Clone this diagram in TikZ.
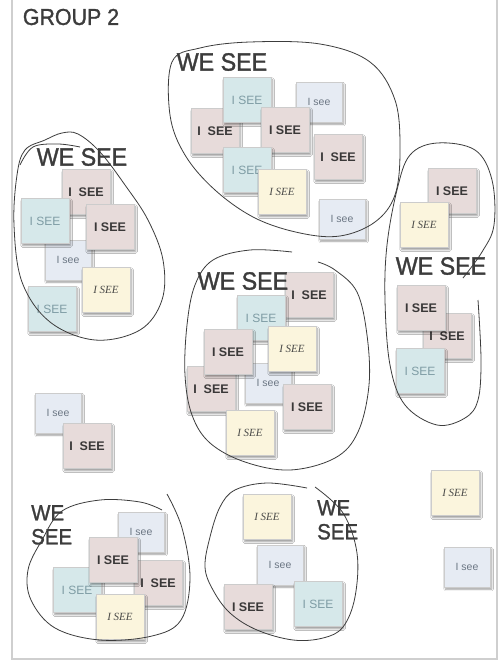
\documentclass[tikz,border=0pt]{standalone}
\usepackage{fontspec}
\usetikzlibrary{shadows.blur}
\newfontfamily\handfont[FakeStretch=0.93,FakeBold=1.3]{Liberation Sans}
\newfontfamily\notefont{Liberation Sans}
\newfontfamily\yellowfont{Liberation Serif}
\definecolor{notepink}{HTML}{E7DBDA}
\definecolor{noteblue}{HTML}{D6E8EA}
\definecolor{notelight}{HTML}{E6EBF3}
\definecolor{noteyellow}{HTML}{FBF5DD}
\definecolor{pinktext}{HTML}{3A3838}
\definecolor{bluetext}{HTML}{7E9CA4}
\definecolor{lighttext}{HTML}{6C7784}
\definecolor{yellowtext}{HTML}{4A4A48}
\definecolor{inkcol}{HTML}{3C3C3C}
\definecolor{pagecol}{HTML}{CFCFCF}
\begin{document}
\begin{tikzpicture}[x=1pt,y=-1pt,
  note/.style={rectangle, inner sep=0pt, minimum width=48pt, minimum height=45pt,
    draw=black!20, line width=0.5pt,
    blur shadow={shadow xshift=1.6pt, shadow yshift=-2.2pt, shadow blur steps=6, shadow opacity=40}},
  pinknote/.style={note, fill=notepink, text=pinktext, font=\notefont\bfseries\fontsize{12.5}{12.5}\selectfont},
  bluenote/.style={note, fill=noteblue, text=bluetext, font=\notefont\fontsize{12}{12}\selectfont},
  lightnote/.style={note, minimum width=46pt, minimum height=40pt, fill=notelight, text=lighttext, font=\notefont\fontsize{10.5}{10.5}\selectfont},
  yellownote/.style={note, fill=noteyellow, text=yellowtext, font=\yellowfont\itshape\fontsize{11}{11}\selectfont},
  wesee/.style={inner sep=0pt, text=inkcol, font=\handfont\fontsize{25}{25}\selectfont},
  wesee2/.style={inner sep=0pt, text=inkcol, align=left, font=\handfont\fontsize{22}{24}\selectfont},
  loop/.style={draw=inkcol, line width=0.8pt}
]
\useasboundingbox (0,0) rectangle (501,667);
\fill[white] (0,0) rectangle (501,667);
% page edges
\draw[pagecol, line width=2pt] (12,0) -- (12,659) -- (497,659) -- (497,0);

\node[inner sep=0pt, text=inkcol, font=\handfont\fontsize{23}{23}\selectfont] (title) at (71,17) {GROUP 2};

% ---------- top group ----------
\node[pinknote] (t1) at (215,131) {I\ \ SEE};
\node[bluenote] (t2) at (247,100) {I SEE};
\node[lightnote] (t3) at (319,102) {I see};
\node[pinknote] (t4) at (285,130) {I SEE};
\node[pinknote] (t5) at (338,157) {I\ \ SEE};
\node[bluenote] (t6) at (247,170) {I SEE};
\node[yellownote] (t7) at (282,192) {I SEE};
\node[lightnote] (t8) at (342,219) {I see};
\node[wesee] (tw) at (222,62) {WE SEE};

% ---------- left group ----------
\node[lightnote] (l4) at (68,260) {I see};
\node[pinknote] (l1) at (86,192) {I\ \ SEE};
\node[bluenote] (l2) at (45,221) {I SEE};
\node[pinknote] (l3) at (110,227) {I SEE};
\node[yellownote] (l5) at (106,290) {I SEE};
\node[bluenote] (l6) at (52,309) {I SEE};
\node[wesee] (lw) at (82,157) {WE SEE};

% ---------- right group ----------
\node[pinknote] (r1) at (452,191) {I SEE};
\node[yellownote] (r2) at (424,225) {I SEE};
\node[pinknote] (r4) at (447,336) {I\ \ SEE};
\node[pinknote] (r3) at (421,308) {I SEE};
\node[bluenote] (r5) at (420,371) {I SEE};
\node[wesee] (rw) at (441,266) {WE SEE};

% ---------- centre group ----------
\node[pinknote] (c1) at (309,295) {I\ \ SEE};
\node[lightnote] (c6) at (268,383) {I see};
\node[bluenote] (c2) at (261,318) {I SEE};
\node[pinknote] (c5) at (211,389) {I\ \ SEE};
\node[pinknote] (c3) at (228,352) {I SEE};
\node[yellownote] (c4) at (292,349) {I SEE};
\node[pinknote] (c7) at (307,407) {I SEE};
\node[yellownote] (c8) at (250,433) {I SEE};
\node[wesee] (cw) at (243,281) {WE SEE};

% ---------- small pair ----------
\node[lightnote] (s1) at (58,413) {I see};
\node[pinknote] (s2) at (87,446) {I\ \ SEE};

% ---------- bottom-left group ----------
\node[lightnote] (b1) at (141,532) {I see};
\node[pinknote] (b4) at (158,583) {I\ \ SEE};
\node[bluenote] (b3) at (77,590) {I SEE};
\node[pinknote] (b2) at (113,560) {I SEE};
\node[yellownote] (b5) at (120,617) {I SEE};
\node[wesee2, anchor=north west] (bw) at (31,505) {WE\\SEE};

% ---------- bottom-middle group ----------
\node[yellownote] (m1) at (267,517) {I SEE};
\node[lightnote] (m2) at (280,565) {I see};
\node[pinknote] (m3) at (248,607) {I SEE};
\node[bluenote] (m4) at (318,604) {I SEE};
\node[wesee2, anchor=north west] (mw) at (317,500) {WE\\SEE};

% ---------- single notes ----------
\node[yellownote] (f1) at (455,493) {I SEE};
\node[lightnote] (f2) at (467,567) {I see};

% ---------- loops ----------
\draw[loop] plot[smooth cycle, tension=0.6] coordinates {(172,62) (200,48) (250,42) (320,44) (370,62) (395,100) (400,150) (395,195) (375,222) (340,236) (300,233) (255,218) (215,190) (185,155) (170,115)};
\draw[loop] plot[smooth cycle, tension=0.6] coordinates {(25,150) (45,140) (62,133) (78,134) (100,152) (125,185) (148,220) (163,260) (162,300) (140,330) (95,340) (50,322) (22,282) (14,225) (17,175)};
\draw[loop] plot[smooth, tension=0.6] coordinates {(20,165) (33,147) (58,144) (80,147)};
\draw[loop] plot[smooth, tension=0.6] coordinates {(478,300) (481,360) (478,400) (465,418) (437,425) (405,405) (390,365) (385,300) (387,245) (397,190) (410,155) (437,143) (475,150) (492,180) (494,225) (482,252) (463,278)};
\draw[loop] plot[smooth, tension=0.6] coordinates {(292,252) (250,250) (213,260) (195,285) (187,325) (185,375) (192,415) (210,443) (245,462) (290,470) (335,458) (358,432) (369,385) (367,335) (357,292) (335,270) (318,262)};
\draw[loop] plot[smooth, tension=0.6] coordinates {(167,494) (182,528) (190,578) (181,620) (152,636) (100,640) (55,628) (31,600) (28,570) (42,540) (62,511) (100,500) (140,502) (162,510)};
\draw[loop] plot[smooth, tension=0.6] coordinates {(315,487) (343,513) (357,553) (355,597) (343,627) (323,638) (293,640) (257,630) (230,613) (213,590) (205,567) (210,537) (220,507) (235,490) (267,483) (307,488)};
\end{tikzpicture}
\end{document}
